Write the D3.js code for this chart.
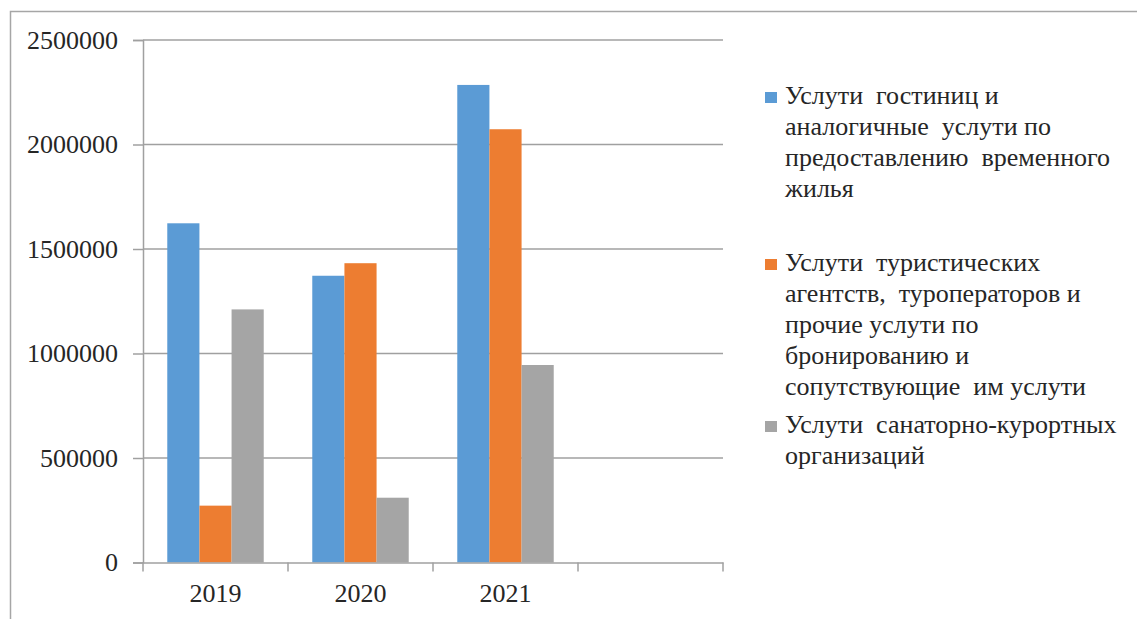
<!DOCTYPE html>
<html>
<head>
<meta charset="utf-8">
<script src="https://cdn.jsdelivr.net/npm/d3@7"></script>
<style>
  html, body { margin: 0; padding: 0; background: #fff; }
  svg { display: block; }
</style>
</head>
<body>
<svg id="chart" width="1137" height="619"></svg>
<script>
// Years on the category axis (the fourth slot is left empty)
const categories = ["2019", "2020", "2021", ""];

// Series values by year
const hotels = [1623000, 1372000, 2285000];
const tourism = [272000, 1432000, 2073000];
const sanatoria = [1211000, 310000, 945000];

// Y axis tick values
const yTicks = [0, 500000, 1000000, 1500000, 2000000, 2500000];

// Legend entries, already wrapped into lines
const seriesNames = ["hotels", "tourism", "sanatoria"];
const legendLines = [
  ["Услути  гостиниц и", "аналогичные  услути по", "предоставлению  временного", "жилья"],
  ["Услути  туристических", "агентств,  туроператоров и", "прочие услути по", "бронированию и", "сопутствующие  им услути"],
  ["Услути  санаторно-курортных", "организаций"]
];

const colors = { hotels: "#5b9bd5", tourism: "#ed7d31", sanatoria: "#a5a5a5" };
const seriesValues = { hotels, tourism, sanatoria };
const FONT = '"Liberation Serif"';
const TEXT_COLOR = "#262626";

function draw() {
  const svg = d3.select("#chart");

  // Chart frame
  svg.append("rect")
    .attr("x", 10.5).attr("y", 11.5)
    .attr("width", 1200).attr("height", 700)
    .attr("fill", "none").attr("stroke", "#a6a6a6").attr("stroke-width", 1.5);

  const plot = { left: 143, right: 723, top: 40, bottom: 562.5 };

  const x = d3.scaleBand().domain(categories).range([plot.left, plot.right]).padding(0);
  const xs = d3.scaleBand().domain(seriesNames).range([0, x.bandwidth()])
    .paddingInner(0).paddingOuter(0.755);
  const y = d3.scaleLinear().domain([0, 2500000]).range([plot.bottom, plot.top]);

  const gridColor = "#a0a0a0";

  // Horizontal gridlines
  svg.append("g").selectAll("line").data(yTicks.filter(d => d > 0)).join("line")
    .attr("x1", plot.left).attr("x2", plot.right)
    .attr("y1", d => y(d)).attr("y2", d => y(d))
    .attr("stroke", gridColor).attr("stroke-width", 1.5);

  // Bars
  const rows = categories.filter(c => c !== "").map((c, i) => ({ c, i }));
  seriesNames.forEach(s => {
    svg.append("g").selectAll("rect").data(rows).join("rect")
      .attr("x", d => x(d.c) + xs(s))
      .attr("width", xs.bandwidth())
      .attr("y", d => y(seriesValues[s][d.i]))
      .attr("height", d => y(0) - y(seriesValues[s][d.i]))
      .attr("fill", colors[s]);
  });

  // Y axis
  const yAxis = d3.axisLeft(y).tickValues(yTicks).tickSize(10).tickPadding(15)
    .tickFormat(d3.format("d"));
  const gy = svg.append("g").attr("transform", `translate(${plot.left},0)`).call(yAxis)
    .attr("font-family", FONT);
  gy.select(".domain").attr("stroke", gridColor).attr("stroke-width", 1.5);
  gy.selectAll(".tick line").attr("stroke", gridColor).attr("stroke-width", 1.5);
  gy.selectAll(".tick text")
    .style("font-family", FONT).style("font-size", "26px").attr("fill", TEXT_COLOR);

  // X axis
  const xAxis = d3.axisBottom(x).tickSize(0).tickPadding(21);
  const gx = svg.append("g").attr("transform", `translate(0,${plot.bottom})`).call(xAxis)
    .attr("font-family", FONT);
  gx.select(".domain").attr("stroke", gridColor).attr("stroke-width", 1.5);
  gx.selectAll(".tick text")
    .style("font-family", FONT).style("font-size", "26px").attr("fill", TEXT_COLOR);
  // Boundary tick marks between categories
  const bounds = categories.map(c => x(c)).concat([plot.right]);
  gx.selectAll("line.bound").data(bounds).join("line").attr("class", "bound")
    .attr("x1", d => d).attr("x2", d => d).attr("y1", 0).attr("y2", 9)
    .attr("stroke", gridColor).attr("stroke-width", 1.5);

  // Legend
  const legendX = 765, textX = 785, lineH = 31;
  const entryTop = [104, 271, 433];
  const legend = svg.append("g");
  seriesNames.forEach((s, i) => {
    const g = legend.append("g").attr("transform", `translate(0,${entryTop[i]})`);
    g.append("rect").attr("x", legendX).attr("y", -12).attr("width", 12).attr("height", 11)
      .attr("fill", colors[s]);
    g.append("text").attr("x", textX).attr("y", 0)
      .attr("xml:space", "preserve")
      .style("font-family", FONT).style("font-size", "26px").attr("fill", TEXT_COLOR)
      .selectAll("tspan").data(legendLines[i]).join("tspan")
      .attr("x", textX).attr("dy", (d, j) => j === 0 ? 0 : lineH)
      .text(d => d);
  });
}

// Resolve the serif face before any text is laid out
if (document.fonts && document.fonts.load) {
  document.fonts.load(`26px ${FONT}`, "Услуги 2500000").then(draw, draw);
} else {
  draw();
}
</script>
</body>
</html>
